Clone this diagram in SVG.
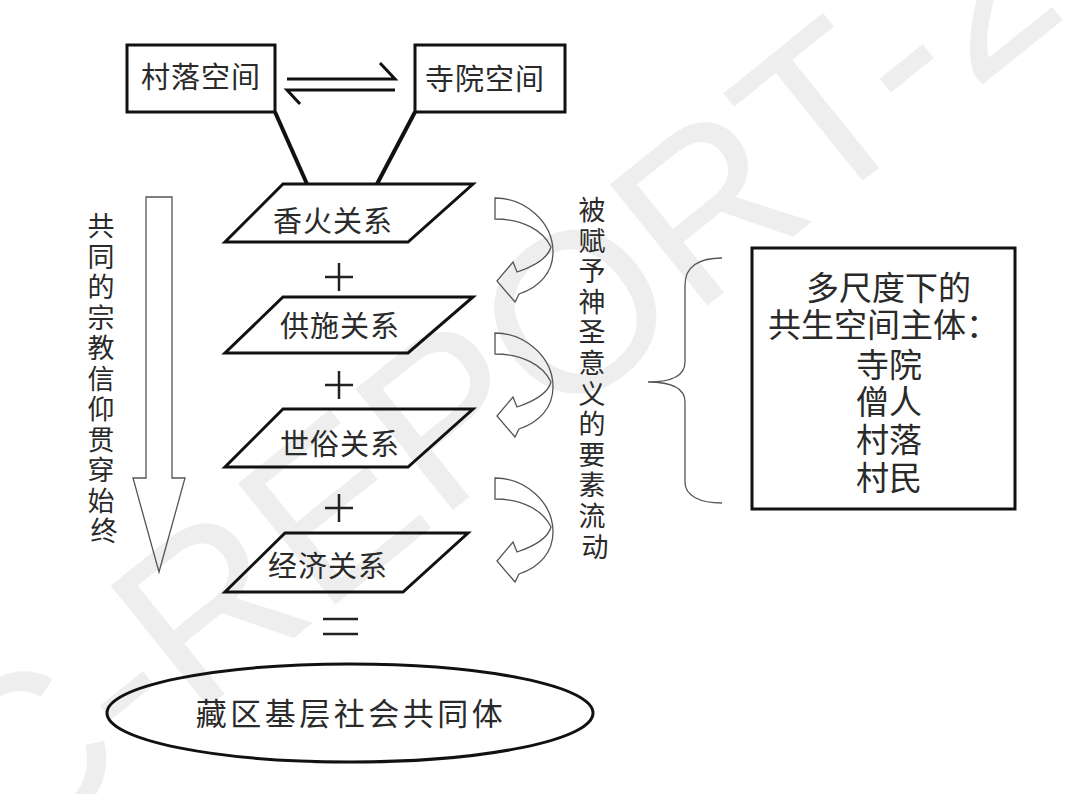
<svg xmlns="http://www.w3.org/2000/svg" width="1080" height="794" viewBox="0 0 1080 794">
<defs>
<style>
.wm{font-family:"Liberation Sans",Arial,sans-serif;font-size:226px;fill:#eeeeee;}
.t{font-family:"Noto Sans CJK SC","Noto Sans CJK TC",sans-serif;fill:#2a2a2a;}
.box{fill:none;stroke:#111;stroke-width:3;}
.para{fill:none;stroke:#111;stroke-width:3;stroke-linejoin:miter;}
.thick{fill:none;stroke:#111;stroke-width:4;stroke-linecap:butt;}
.harp{fill:none;stroke:#111;stroke-width:3;stroke-linecap:butt;}
.hollow{fill:none;stroke:#555;stroke-width:1.3;stroke-linejoin:miter;}
.op{fill:none;stroke:#222;stroke-width:2.5;}
</style>
<path id="curv" d="M495,198 C525,198 553,222 553,252 C553,272 540,287 519,294 L515,302 L497,281 L513,262 L517,272 C535,266 548,258 551,247 C543,230 522,219 495,219 Z"/>
</defs>
<rect width="1080" height="794" fill="#ffffff"/>
<g id="watermark">
<text class="wm" transform="translate(8,868) rotate(-38.8)">C-REPORT-2</text>
</g>

<g id="village-space">
<rect class="box" x="127" y="45" width="148" height="67"/>
<text class="t" x="201" y="88" font-size="29" text-anchor="middle" letter-spacing="1">村落空间</text>
</g>
<g id="temple-space">
<rect class="box" x="415" y="45" width="150" height="67"/>
<text class="t" x="485" y="90" font-size="29" text-anchor="middle" letter-spacing="1">寺院空间</text>
</g>

<g id="rel-incense">
<polygon class="para" points="283,184 473,184 408,242 225,242"/>
<text class="t" x="333" y="232" font-size="29" text-anchor="middle" letter-spacing="1">香火关系</text>
</g>
<g id="rel-offering">
<polygon class="para" points="283,297 473,297 408,353 225,353"/>
<text class="t" x="340" y="337" font-size="29" text-anchor="middle" letter-spacing="1">供施关系</text>
</g>
<g id="rel-secular">
<polygon class="para" points="283,409 473,409 408,467 225,467"/>
<text class="t" x="340" y="455" font-size="29" text-anchor="middle" letter-spacing="1">世俗关系</text>
</g>
<g id="rel-economic">
<polygon class="para" points="285,533 468,533 403,592 225,592"/>
<text class="t" x="328" y="577" font-size="29" text-anchor="middle" letter-spacing="1">经济关系</text>
</g>

<g id="community">
<ellipse cx="350" cy="713" rx="243" ry="49" fill="none" stroke="#111" stroke-width="3"/>
<text class="t" x="351" y="725" font-size="31" text-anchor="middle" letter-spacing="3.5">藏区基层社会共同体</text>
</g>

<g id="subjects">
<rect class="box" x="752" y="248" width="263" height="261"/>
<text class="t" font-size="33">
<tspan x="806" y="300">多尺度下的</tspan>
<tspan x="768" y="337">共生空间主体：</tspan>
<tspan x="856" y="377">寺院</tspan>
<tspan x="856" y="414">僧人</tspan>
<tspan x="856" y="452">村落</tspan>
<tspan x="856" y="490">村民</tspan>
</text>
</g>

<g id="belief-label">
<text class="t" font-size="27" text-anchor="middle">
<tspan x="104" y="236">共</tspan>
<tspan x="104" y="266.5">同</tspan>
<tspan x="104" y="297">的</tspan>
<tspan x="104" y="327.5">宗</tspan>
<tspan x="104" y="358">教</tspan>
<tspan x="104" y="388.5">信</tspan>
<tspan x="104" y="419">仰</tspan>
<tspan x="104" y="449.5">贯</tspan>
<tspan x="104" y="480">穿</tspan>
<tspan x="104" y="510.5">始</tspan>
<tspan x="104" y="541">终</tspan>
</text>
</g>

<g id="flow-label">
<text class="t" font-size="27" text-anchor="middle">
<tspan x="595" y="220">被</tspan>
<tspan x="595" y="250.6">赋</tspan>
<tspan x="595" y="281.2">予</tspan>
<tspan x="595" y="311.8">神</tspan>
<tspan x="595" y="342.4">圣</tspan>
<tspan x="595" y="373">意</tspan>
<tspan x="595" y="403.6">义</tspan>
<tspan x="595" y="434.2">的</tspan>
<tspan x="595" y="464.8">要</tspan>
<tspan x="595" y="495.4">素</tspan>
<tspan x="595" y="526">流</tspan>
<tspan x="595" y="556.6">动</tspan>
</text>
</g>

<g id="connectors">
<path class="harp" d="M287,79 L395,79 L380,63"/>
<path class="harp" d="M395,90 L287,90 L300,104"/>
<line class="thick" x1="275" y1="112" x2="307" y2="184"/>
<line class="thick" x1="415" y1="112" x2="377" y2="184"/>
<polygon class="hollow" points="146,197 172,197 172,478 185,478 159,572 133,478 146,478"/>
<use href="#curv" class="hollow"/>
<use href="#curv" class="hollow" transform="translate(0,135)"/>
<use href="#curv" class="hollow" transform="translate(0,280)"/>
<path class="hollow" stroke-width="1.5" d="M722,258 C700,258 685,266 685,285 L685,362 C685,375 672,382 648,382 C672,382 685,389 685,402 L685,482 C685,496 700,503 722,503"/>
<path class="op" d="M325,277 H353 M339,263 V291"/>
<path class="op" d="M325,385 H353 M339,371 V399"/>
<path class="op" d="M325,508 H353 M339,494 V522"/>
<path class="op" d="M323,619 H358 M323,634 H358"/>
</g>
</svg>
